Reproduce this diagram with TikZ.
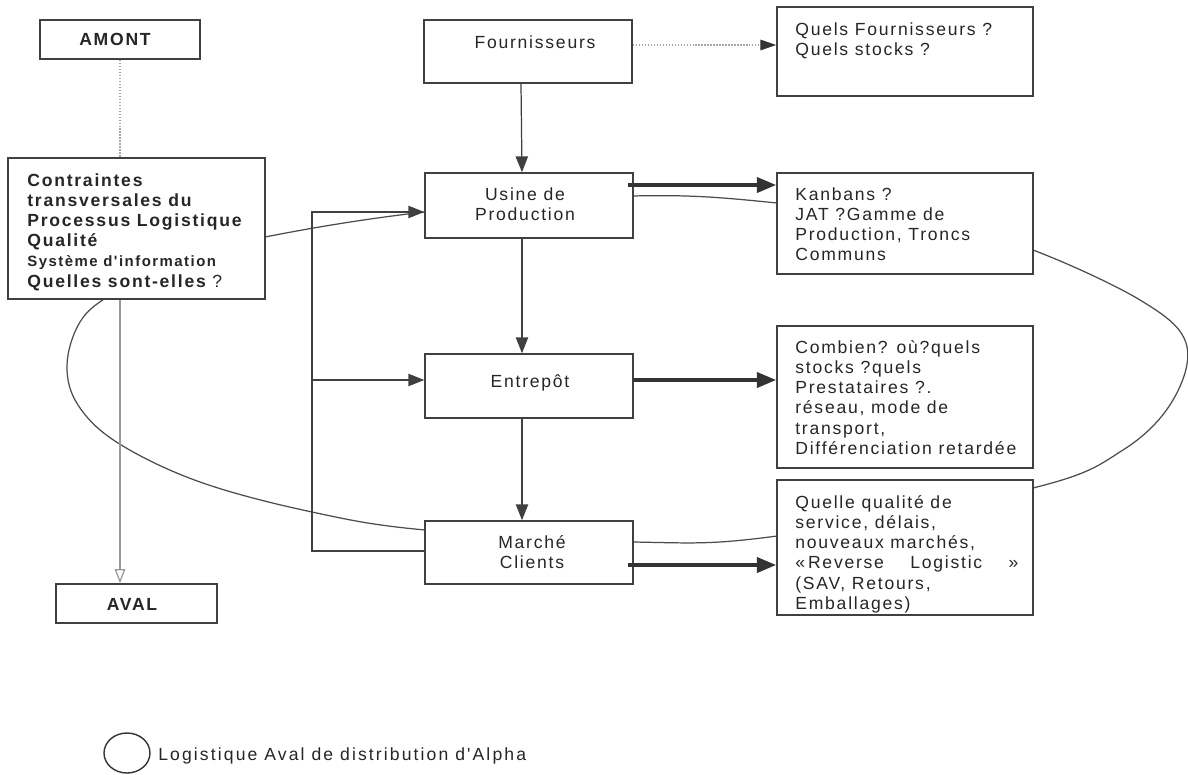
\documentclass[tikz,border=0pt]{standalone}
\usepackage{fontspec}
\setmainfont{Liberation Sans}
\newfontfamily\lsp[LetterSpace=10]{Liberation Sans}
\newfontfamily\lspw[LetterSpace=12]{Liberation Sans}
\usetikzlibrary{arrows.meta,shapes.geometric}
\begin{document}
\begin{tikzpicture}[x=0.02cm,y=-0.02cm,
  box/.style={draw=black!75, line width=0.9pt, fill=white, inner sep=0pt},
  txt/.style={font=\lsp\fontsize{10}{11.5}\selectfont, inner sep=0pt, align=left, anchor=north west, text=black!85},
  ctxt/.style={txt, align=center, anchor=north},
  btxt/.style={font=\lsp\bfseries\fontsize{10}{11.5}\selectfont},
  conn/.style={draw=black!75, line width=0.7pt},
  arr/.style={conn, -{Triangle[length=9pt,width=7pt]}},
  bigarr/.style={draw=black!80, line width=2.2pt, -{Triangle[length=11pt,width=8.5pt]}},
  loopline/.style={draw=black!70, line width=0.7pt},
]
\useasboundingbox (0,0) rectangle (1188,775);
\fill[white] (0,0) rectangle (1188,775);

% big loop (logistique aval)
\draw[loopline] plot[smooth cycle, tension=0.6] coordinates {(67,365) (80,322) (110,295) (170,262) (265,237) (425,212) (633,196) (777,203) (950,228) (1033,250) (1140,300) (1186,343) (1173,400) (1123,450) (1033,488) (777,536) (633,542) (425,530) (312,512) (200,482) (118,443) (78,405)};

% boxes
\node[box, minimum width=3.2cm, minimum height=0.78cm] (amont) at (120,39.5) {};
\node[box, minimum width=5.14cm, minimum height=2.82cm] (contr) at (136.5,228.5) {};
\node[box, minimum width=3.22cm, minimum height=0.78cm] (aval) at (136.5,603.5) {};
\node[box, minimum width=4.16cm, minimum height=1.26cm] (four) at (528,51.5) {};
\node[box, minimum width=4.16cm, minimum height=1.30cm] (usine) at (529,205.5) {};
\node[box, minimum width=4.16cm, minimum height=1.28cm] (entr) at (529,386) {};
\node[box, minimum width=4.16cm, minimum height=1.26cm] (march) at (529,552.5) {};
\node[box, minimum width=5.12cm, minimum height=1.78cm] (quels) at (905,51.5) {};
\node[box, minimum width=5.12cm, minimum height=2.02cm] (kanb) at (905,223.5) {};
\node[box, minimum width=5.12cm, minimum height=2.84cm] (comb) at (905,397) {};
\node[box, minimum width=5.12cm, minimum height=2.70cm] (qual) at (905,547.5) {};

% texts
\node[ctxt, btxt] (tamont) at (115,33) {AMONT};
\node[txt, btxt] (tcontr) at (27,173) {Contraintes\\transversales du\\Processus Logistique\\Qualité\\{\fontsize{8.5}{10}\selectfont Système d'information}\\Quelles sont-elles {\mdseries ?}};
\node[ctxt, btxt] (taval) at (132,598) {AVAL};
\node[ctxt] (tfour) at (535,35) {Fournisseurs};
\node[ctxt] (tusine) at (525,187) {Usine de\\Production};
\node[ctxt] (tentr) at (530,374) {Entrepôt};
\node[ctxt] (tmarch) at (532,535) {Marché\\Clients};
\node[txt] (tquels) at (795,22) {Quels Fournisseurs ?\\Quels stocks ?};
\node[txt] (tkanb) at (795,187) {Kanbans ?\\JAT ?Gamme de\\Production, Troncs\\Communs};
\node[txt] (tcomb) at (795,340) {Combien? où?quels\\stocks ?quels\\Prestataires ?.\\réseau, mode de\\transport,\\Différenciation retardée};
\node[txt] (tqual) at (795,495) {Quelle qualité de\\service, délais,\\nouveaux marchés,\\\makebox[127pt][l]{«\,Reverse\hfill Logistic\hfill»}\\(SAV, Retours,\\Emballages)};

% helper coordinates
\coordinate (y45) at (0,45);
\coordinate (y185) at (0,185);
\coordinate (y380) at (0,380);
\coordinate (y565) at (0,565);
\coordinate (b1) at (312,551);
\coordinate (b2) at (312,212);
\coordinate (b3) at (312,380);

% connectors
\draw[conn, draw=gray!70, densely dotted, line width=0.6pt] (amont.south) -- (amont.south |- contr.north);
\draw[conn, draw=gray!80, -{Triangle[open,length=8pt,width=6pt]}] (amont.south |- contr.south) -- (amont.south |- aval.north);
\draw[conn, draw=gray!70, densely dotted, line width=0.6pt, -{Triangle[length=9pt,width=6pt,color=black!80]}] (four.east |- y45) -- (quels.west |- y45);
\draw[arr] ([xshift=-0.14cm]four.south) -- ([xshift=-0.14cm]usine.north);
\draw[arr] ([xshift=-0.14cm]usine.south) -- ([xshift=-0.14cm]entr.north);
\draw[arr] ([xshift=-0.14cm]entr.south) -- ([xshift=-0.14cm]march.north);
\draw[arr] (march.west |- b1) -- (b1) -- (b2) -- (usine.west |- b2);
\draw[arr] (b3) -- (entr.west |- b3);
\draw[bigarr, shorten <=-0.12cm] (usine.east |- y185) -- (kanb.west |- y185);
\draw[bigarr] (entr.east |- y380) -- (comb.west |- y380);
\draw[bigarr, shorten <=-0.12cm] (march.east |- y565) -- (qual.west |- y565);

% legend
\node[draw=black!80, line width=0.8pt, ellipse, minimum width=0.92cm, minimum height=0.8cm, inner sep=0pt] (leg) at (127,753) {};
\node[txt, font=\lspw\fontsize{10}{12}\selectfont, anchor=west] (legt) at (158,756) {Logistique Aval de distribution d'Alpha};
\end{tikzpicture}
\end{document}
